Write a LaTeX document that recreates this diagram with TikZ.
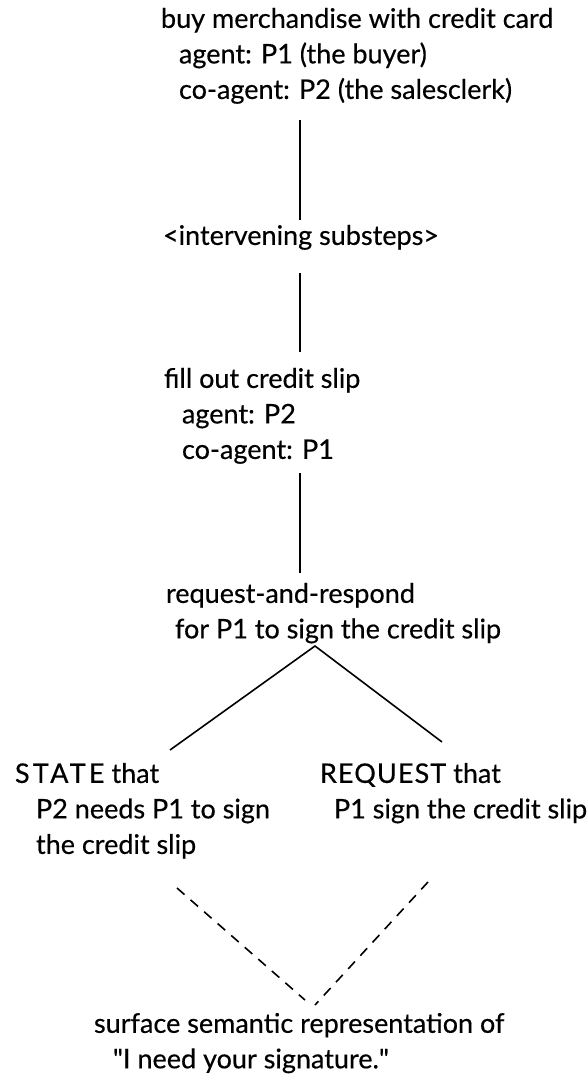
\documentclass[tikz,border=0pt]{standalone}
\usepackage{fontspec}
\setmainfont[FakeBold=0.4]{Lato}

\begin{document}
\begin{tikzpicture}[x=0.5pt,y=-0.5pt,
	bloc/.style={anchor=north west,align=left,inner sep=0pt,outer sep=0pt,
		font=\fontsize{13.5}{17.75}\selectfont},
	trait/.style={line width=0.8pt},
	pointille/.style={line width=0.8pt,dash pattern=on 5pt off 4pt}]
	\useasboundingbox (0,0) rectangle (588,1080);

	% etapes
	\node[bloc] (achat) at (161,8) {buy merchandise with credit card\\
		\hspace*{9pt}agent: P1 (the buyer)\\
		\hspace*{9pt}co-agent: P2 (the salesclerk)};
	\node[bloc] (inter) at (163,225) {<intervening substeps>};
	\node[bloc] (remplir) at (164,368) {fill out credit slip\\
		\hspace*{9pt}agent: P2\\
		\hspace*{9pt}co-agent: P1};
	\node[bloc] (demande) at (166,583) {request-and-respond\\
		\hspace*{4.5pt}for P1 to sign the credit slip};

	% actes
	\node[bloc] (affirme) at (15,763) {{\addfontfeature{LetterSpace=12}STATE} that\\
		\hspace*{10.5pt}P2 needs P1 to sign\\
		\hspace*{10.5pt}the credit slip};
	\node[bloc] (requete) at (320,763) {{\addfontfeature{LetterSpace=4}REQUEST} that\\
		\hspace*{7pt}P1 sign the credit slip};

	% surface
	\node[bloc] (surface) at (94,1013) {surface semantic representation of\\
		\hspace*{9.5pt}\textquotedbl I need your signature.\textquotedbl};

	% traits
	\draw[trait] ([shift={(139,112)}]achat.north west) -- ([shift={(137,-5)}]inter.north west);
	\draw[trait] ([shift={(137,48)}]inter.north west) -- ([shift={(136,-16)}]remplir.north west);
	\draw[trait] ([shift={(136,105)}]remplir.north west) -- ([shift={(134,-10)}]demande.north west);
	\draw[trait] ([shift={(155,-13)}]affirme.north west) -- ([shift={(149,63)}]demande.north west)
		-- ([shift={(122,-21)}]requete.north west);

	% pointilles
	\draw[pointille] ([shift={(162,125)}]affirme.north west) -- ([shift={(211,-13)}]surface.north west);
	\draw[pointille] ([shift={(108,119)}]requete.north west) -- ([shift={(221,-8)}]surface.north west);
\end{tikzpicture}
\end{document}
